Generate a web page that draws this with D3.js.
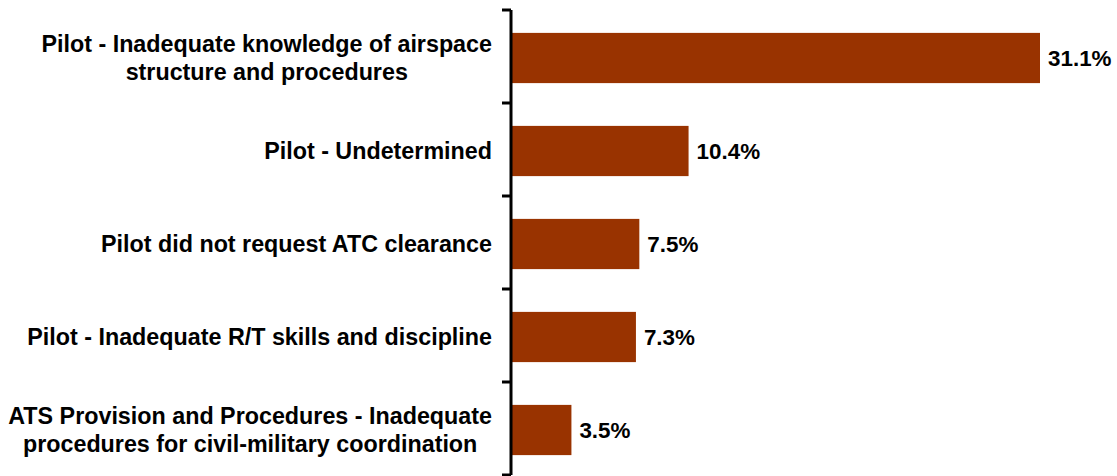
<!DOCTYPE html>
<html><head><meta charset="utf-8">
<script src="https://cdn.jsdelivr.net/npm/d3@7"></script>
<style>
html,body{margin:0;padding:0;background:#fff;}
svg text{font-family:"Liberation Sans",Arial,sans-serif;font-weight:bold;fill:#000;}
</style></head>
<body>
<svg id="chart" width="1117" height="476"></svg>
<script>
const categories = [
  ["Pilot - Inadequate knowledge of airspace", "structure and procedures"],
  ["Pilot - Undetermined"],
  ["Pilot did not request ATC clearance"],
  ["Pilot - Inadequate R/T skills and discipline"],
  ["ATS Provision and Procedures - Inadequate", "procedures for civil-military coordination"]
];
const values = [31.1, 10.4, 7.5, 7.3, 3.5];
const valueLabels = ["31.1%", "10.4%", "7.5%", "7.3%", "3.5%"];

const svg = d3.select("#chart");
const axisX = 511;
const plotTop = 10, plotBottom = 475;
const ids = categories.map((c, i) => i);

const y = d3.scaleBand().domain(ids).range([plotTop, plotBottom]).paddingInner(0.46).paddingOuter(0.23);
const yb = d3.scaleBand().domain(ids).range([plotTop, plotBottom]);
const x = d3.scaleLinear().domain([0, 31.1]).range([axisX + 1, 1040]);

// bars
svg.selectAll("rect.bar").data(values).enter().append("rect")
  .attr("class", "bar")
  .attr("x", x(0))
  .attr("y", (d, i) => y(i) + 1.5)
  .attr("width", d => x(d) - x(0))
  .attr("height", y.bandwidth())
  .attr("fill", "#993300");

// value labels
svg.selectAll("text.val").data(values).enter().append("text")
  .attr("class", "val")
  .attr("x", d => x(d) + 8)
  .attr("y", (d, i) => y(i) + 1.5 + y.bandwidth() / 2)
  .attr("dy", "0.35em")
  .style("font-size", "22.4px")
  .text((d, i) => valueLabels[i]);

// axis line and ticks
const g = svg.append("g");
g.append("line").attr("x1", axisX).attr("x2", axisX).attr("y1", plotTop).attr("y2", plotBottom)
  .attr("stroke", "#000").attr("stroke-width", 3);
const tickYs = ids.map(i => yb(i)).concat([plotBottom]);
g.selectAll("line.tick").data(tickYs).enter().append("line")
  .attr("x1", axisX - 9).attr("x2", axisX).attr("y1", d => d).attr("y2", d => d)
  .attr("stroke", "#000").attr("stroke-width", 3);

// category labels: right-aligned block, lines centred within block
const right = 492;
const lineH = 28.5;
categories.forEach((lines, i) => {
  const cy = y(i) + 1.5 + y.bandwidth() / 2;
  const grp = svg.append("g");
  const texts = lines.map((t, j) => grp.append("text")
    .style("font-size", "23.3px")
    .attr("text-anchor", "middle")
    .attr("dy", "0.35em")
    .attr("y", cy + (j - (lines.length - 1) / 2) * lineH)
    .text(t));
  const maxW = d3.max(texts, t => t.node().getComputedTextLength());
  texts.forEach(t => t.attr("x", right - maxW / 2));
});
</script>
</body></html>
